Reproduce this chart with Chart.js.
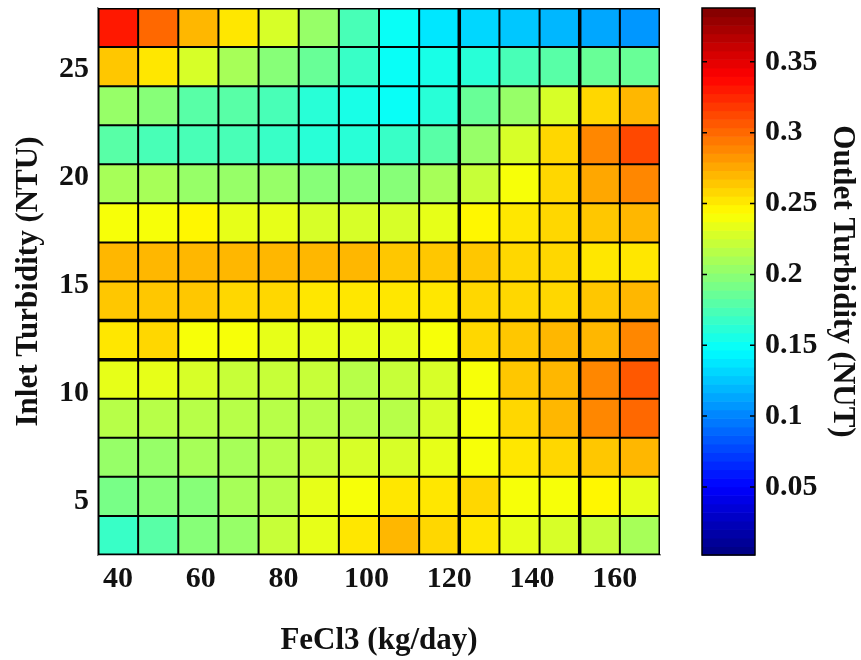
<!DOCTYPE html>
<html><head><meta charset="utf-8">
<script src="https://cdn.jsdelivr.net/npm/chart.js@4/dist/chart.umd.min.js"></script>
<style>
html,body{margin:0;padding:0;background:#fff;}
#wrap{position:relative;width:861px;height:660px;overflow:hidden;}
#main{position:absolute;left:0;top:0;}
#cbar{position:absolute;left:690px;top:0;}
</style></head><body>
<div id="wrap">
<canvas id="main" width="690" height="660"></canvas>
<canvas id="cbar" width="171" height="660"></canvas>
</div>
<script>
// ---- data ----
// FeCl3 dose (kg/day), cell centres, left to right
const fecl3 = [40.0, 49.7, 59.4, 69.1, 78.8, 88.5, 98.2, 107.9, 117.6, 127.3, 137.0, 146.7, 156.4, 166.1];
// Inlet turbidity (NTU), cell centres, bottom to top
const inletTurbidity = [3.4, 5.21, 7.02, 8.83, 10.64, 12.45, 14.26, 16.07, 17.88, 19.69, 21.5, 23.31, 25.12, 26.93];
// Outlet turbidity (NTU), one row per inlet turbidity (bottom to top), one value per FeCl3 column
const outRow01 = [0.166, 0.177, 0.195, 0.207, 0.224, 0.236, 0.251, 0.268, 0.259, 0.255, 0.236, 0.230, 0.220, 0.209];
const outRow02 = [0.190, 0.196, 0.198, 0.211, 0.219, 0.232, 0.243, 0.255, 0.255, 0.257, 0.243, 0.243, 0.245, 0.236];
const outRow03 = [0.203, 0.207, 0.209, 0.213, 0.219, 0.224, 0.230, 0.228, 0.232, 0.243, 0.253, 0.259, 0.265, 0.270];
const outRow04 = [0.219, 0.219, 0.219, 0.217, 0.219, 0.219, 0.217, 0.215, 0.226, 0.243, 0.259, 0.270, 0.287, 0.298];
const outRow05 = [0.236, 0.234, 0.230, 0.224, 0.224, 0.224, 0.219, 0.220, 0.228, 0.243, 0.265, 0.273, 0.287, 0.304];
const outRow06 = [0.255, 0.257, 0.243, 0.243, 0.236, 0.236, 0.236, 0.234, 0.243, 0.257, 0.265, 0.268, 0.273, 0.287];
const outRow07 = [0.265, 0.265, 0.265, 0.257, 0.257, 0.251, 0.253, 0.253, 0.253, 0.259, 0.257, 0.261, 0.263, 0.268];
const outRow08 = [0.273, 0.273, 0.273, 0.268, 0.268, 0.268, 0.268, 0.265, 0.265, 0.263, 0.257, 0.257, 0.251, 0.251];
const outRow09 = [0.243, 0.243, 0.245, 0.236, 0.236, 0.230, 0.228, 0.230, 0.236, 0.245, 0.253, 0.257, 0.263, 0.268];
const outRow10 = [0.211, 0.213, 0.203, 0.205, 0.202, 0.200, 0.195, 0.196, 0.211, 0.222, 0.243, 0.257, 0.275, 0.287];
const outRow11 = [0.177, 0.175, 0.173, 0.173, 0.170, 0.164, 0.164, 0.166, 0.181, 0.203, 0.230, 0.257, 0.287, 0.310];
const outRow12 = [0.202, 0.195, 0.181, 0.177, 0.173, 0.160, 0.153, 0.147, 0.162, 0.185, 0.207, 0.230, 0.257, 0.273];
const outRow13 = [0.263, 0.253, 0.230, 0.213, 0.196, 0.185, 0.166, 0.147, 0.158, 0.162, 0.173, 0.179, 0.185, 0.188];
const outRow14 = [0.328, 0.302, 0.273, 0.251, 0.226, 0.202, 0.173, 0.147, 0.135, 0.133, 0.126, 0.122, 0.114, 0.107];
const outletTurbidity = [outRow01, outRow02, outRow03, outRow04, outRow05, outRow06, outRow07,
                         outRow08, outRow09, outRow10, outRow11, outRow12, outRow13, outRow14];
// tick labels
const xTickValues = [40, 60, 80, 100, 120, 140, 160];
const yTickValues = [5, 10, 15, 20, 25];
const cbTickValues = [0.05, 0.1, 0.15, 0.2, 0.25, 0.3, 0.35];
const colorLimits = [0.002, 0.388];

// ---- styles ----
const FONT = "'Liberation Serif', 'Times New Roman', serif";
const TXT = '#111';
const thickXEdges = [9, 12];
const thickYEdges = [5, 6];

function jet(v) {
  const [lo, hi] = colorLimits;
  let t = (v - lo) / (hi - lo);
  t = Math.min(Math.max(t, 0), 1);
  const k = Math.min(63, Math.floor(t * 64));
  const tt = (k + 0.5) / 64;
  const c = x => Math.round(255 * Math.min(1, Math.max(0, x)));
  return `rgb(${c(Math.min(4*tt-1.5, -4*tt+4.5))},${c(Math.min(4*tt-0.5, -4*tt+3.5))},${c(Math.min(4*tt+0.5, -4*tt+2.5))})`;
}
function edgesOf(c) {
  const e = [];
  for (let i = 0; i <= c.length; i++) {
    if (i === 0) e.push(c[0] - (c[1] - c[0]) / 2);
    else if (i === c.length) e.push(c[i-1] + (c[i-1] - c[i-2]) / 2);
    else e.push((c[i-1] + c[i]) / 2);
  }
  return e;
}
const xEdges = edgesOf(fecl3);
const yEdges = edgesOf(inletTurbidity);

const datasets = inletTurbidity.map((yc, j) => ({
  data: fecl3.map(x => ({x: x, y: [yEdges[j], yEdges[j+1]]})),
  backgroundColor: ctx => jet(outletTurbidity[j][ctx.dataIndex]),
  borderWidth: 0,
  borderSkipped: false,
  inflateAmount: 0.4,
  grouped: false,
  barPercentage: 1,
  categoryPercentage: 1
}));

// cell outlines (thin) and the few heavier lines seen in the original
const cellLines = {
  id: 'cellLines',
  afterDatasetsDraw(chart) {
    const {ctx, chartArea: a, scales: {x, y}} = chart;
    ctx.save();
    ctx.strokeStyle = '#000';
    const drawV = (i, w) => {
      const px = x.getPixelForValue(xEdges[i]);
      ctx.lineWidth = w;
      ctx.beginPath(); ctx.moveTo(px, a.top); ctx.lineTo(px, a.bottom); ctx.stroke();
    };
    const drawH = (i, w) => {
      const py = y.getPixelForValue(yEdges[i]);
      ctx.lineWidth = w;
      ctx.beginPath(); ctx.moveTo(a.left, py); ctx.lineTo(a.right, py); ctx.stroke();
    };
    for (let i = 1; i < xEdges.length - 1; i++) drawV(i, 2);
    for (let i = 1; i < yEdges.length - 1; i++) drawH(i, 2);
    for (const i of thickXEdges) drawV(i, 3.5);
    for (const i of thickYEdges) drawH(i, 3.5);
    // outer frame
    ctx.lineWidth = 1.5;
    ctx.strokeRect(a.left + 0.75, a.top + 0.75, a.right - a.left - 1.5, a.bottom - a.top - 1.5);
    ctx.restore();
  }
};

const tickFont = {family: FONT, size: 30, weight: 'bold'};
const titleFont = {family: FONT, size: 31, weight: 'bold'};

new Chart(document.getElementById('main'), {
  type: 'bar',
  data: {datasets},
  options: {
    responsive: false, animation: false, events: [],
    layout: {padding: {left: 0, top: 8, right: 30, bottom: 0}},
    plugins: {legend: {display: false}, tooltip: {enabled: false}},
    scales: {
      x: {
        type: 'linear', position: 'bottom', offset: false,
        min: xEdges[0], max: xEdges[xEdges.length - 1],
        afterBuildTicks: s => { s.ticks = xTickValues.map(v => ({value: v})); },
        afterFit: s => { s.height = 105; s.paddingLeft = 0; s.paddingRight = 0; },
        grid: {display: false, drawTicks: false, offset: false},
        border: {display: true, color: '#808080', width: 1.5},
        ticks: {padding: 6, color: TXT, font: tickFont, maxRotation: 0, autoSkip: false, callback: v => String(v)},
        title: {display: true, text: 'FeCl3 (kg/day)', color: TXT, font: titleFont, padding: {top: 0, bottom: 0}}
      },
      y: {
        type: 'linear', position: 'left',
        min: yEdges[0], max: yEdges[yEdges.length - 1],
        afterBuildTicks: s => { s.ticks = yTickValues.map(v => ({value: v})); },
        afterFit: s => { s.width = 98; s.paddingTop = 0; s.paddingBottom = 0; },
        grid: {display: false, drawTicks: false},
        border: {display: true, color: '#808080', width: 1.5},
        ticks: {padding: 9, color: TXT, font: tickFont, autoSkip: false, callback: v => String(v)},
        title: {display: true, text: 'Inlet Turbidity (NTU)', color: TXT, font: titleFont, padding: {top: 10, bottom: 0}}
      }
    }
  },
  plugins: [cellLines]
});

const colorbarPlugin = {
  id: 'colorbar',
  beforeDatasetsDraw(chart) {
    const {ctx, chartArea: a, scales: {y}} = chart;
    const [lo, hi] = colorLimits;
    ctx.save();
    for (let k = 0; k < 64; k++) {
      const v0 = lo + (hi - lo) * k / 64, v1 = lo + (hi - lo) * (k + 1) / 64;
      const p0 = y.getPixelForValue(v0), p1 = y.getPixelForValue(v1);
      ctx.fillStyle = jet((v0 + v1) / 2);
      ctx.fillRect(a.left, p1, a.right - a.left, p0 - p1 + 0.6);
    }
    ctx.strokeStyle = '#000';
    ctx.lineWidth = 1.5;
    ctx.strokeRect(a.left, a.top, a.right - a.left, a.bottom - a.top);
    for (const t of y.ticks) {
      const p = y.getPixelForValue(t.value);
      ctx.beginPath();
      ctx.moveTo(a.left, p); ctx.lineTo(a.left + 5, p);
      ctx.moveTo(a.right - 5, p); ctx.lineTo(a.right, p);
      ctx.stroke();
    }
    ctx.restore();
  }
};

new Chart(document.getElementById('cbar'), {
  type: 'scatter',
  data: {datasets: []},
  options: {
    responsive: false, animation: false, events: [],
    layout: {padding: {left: 12, top: 8, right: 0, bottom: 105}},
    plugins: {legend: {display: false}, tooltip: {enabled: false}},
    scales: {
      x: {display: false, min: 0, max: 1},
      y: {
        type: 'linear', position: 'right',
        min: colorLimits[0], max: colorLimits[1],
        afterBuildTicks: s => { s.ticks = cbTickValues.map(v => ({value: v})); },
        afterFit: s => { s.width = 106; s.paddingTop = 0; s.paddingBottom = 0; },
        grid: {display: false, drawTicks: false},
        border: {display: false},
        ticks: {padding: 10, color: TXT, font: tickFont, autoSkip: false, callback: v => String(v)},
        title: {display: true, text: 'Outlet Turbidity (NUT)', color: TXT, font: titleFont, padding: {top: 0, bottom: 0}}
      }
    }
  },
  plugins: [colorbarPlugin]
});
</script>
</body></html>
